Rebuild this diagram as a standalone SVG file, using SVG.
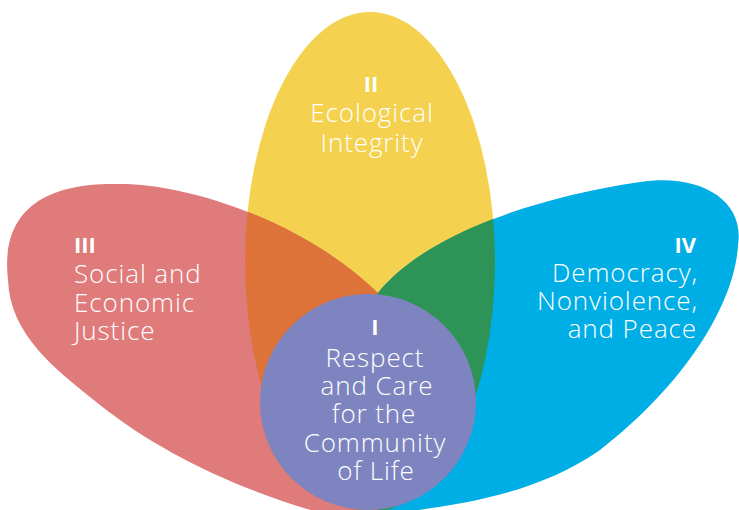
<svg xmlns="http://www.w3.org/2000/svg" xmlns:xlink="http://www.w3.org/1999/xlink" width="739" height="510" viewBox="0 0 739 510">
<style>
.lbl{font-family:"Open Sans","Liberation Sans",sans-serif;font-weight:300;font-size:26px;letter-spacing:0.9px;fill:#ffffff}
.num{font-family:"Open Sans","Liberation Sans",sans-serif;font-weight:700;font-size:22px;fill:#ffffff}
.mid{text-anchor:middle}
.end{text-anchor:end}
</style>
<defs>
<ellipse id="yellowShape" cx="370" cy="262" rx="125" ry="250"/>
<path id="redShape" d="M 8,280 C 0,210 45,182 120,184 C 190,184 305,222 378,293 C 420,340 440,420 420,480 C 410,510 380,525 340,518 C 255,497 165,457 100,405 C 55,369 10,335 8,280 Z"/>
<path id="blueShape" d="M 378,293 C 420,240 520,200 640,182 C 700,173 745,200 738,245 C 735,300 690,380 600,450 C 535,495 460,505 380,515 C 350,450 340,350 378,293 Z"/>
<clipPath id="clipYellow"><use xlink:href="#yellowShape"/></clipPath>
</defs>
<rect width="739" height="510" fill="#ffffff"/>
<g id="petal-II">
<use xlink:href="#yellowShape" fill="#F4D24F"/>
</g>
<g id="petal-III">
<use xlink:href="#redShape" fill="#E07B7B"/>
</g>
<g id="petal-IV">
<use xlink:href="#blueShape" fill="#00AEE6"/>
</g>
<g id="overlaps">
<use xlink:href="#redShape" fill="#DE733A" clip-path="url(#clipYellow)"/>
<use xlink:href="#blueShape" fill="#2E9356" clip-path="url(#clipYellow)"/>
</g>
<g id="connectors"></g>
<g id="circle-I">
<circle cx="368" cy="402" r="108" fill="#7D84BF"/>
</g>
<g id="text-II">
<text class="num mid" x="371" y="92">II</text>
<text class="lbl mid" x="372" y="122">Ecological</text>
<text class="lbl mid" x="372" y="152">Integrity</text>
</g>
<g id="text-III">
<text class="num" x="74" y="253">III</text>
<text class="lbl" x="74" y="283">Social and</text>
<text class="lbl" x="74" y="312">Economic</text>
<text class="lbl" x="74" y="340">Justice</text>
</g>
<g id="text-IV">
<text class="num end" x="696" y="253">IV</text>
<text class="lbl end" x="698" y="282">Democracy,</text>
<text class="lbl end" x="698" y="310">Nonviolence,</text>
<text class="lbl end" x="697" y="338">and Peace</text>
</g>
<g id="text-I">
<text class="num mid" x="375" y="335">I</text>
<text class="lbl mid" x="375" y="367">Respect</text>
<text class="lbl mid" x="377" y="395">and Care</text>
<text class="lbl mid" x="374" y="423">for the</text>
<text class="lbl mid" x="375" y="452">Community</text>
<text class="lbl mid" x="376" y="480">of Life</text>
</g>
</svg>
